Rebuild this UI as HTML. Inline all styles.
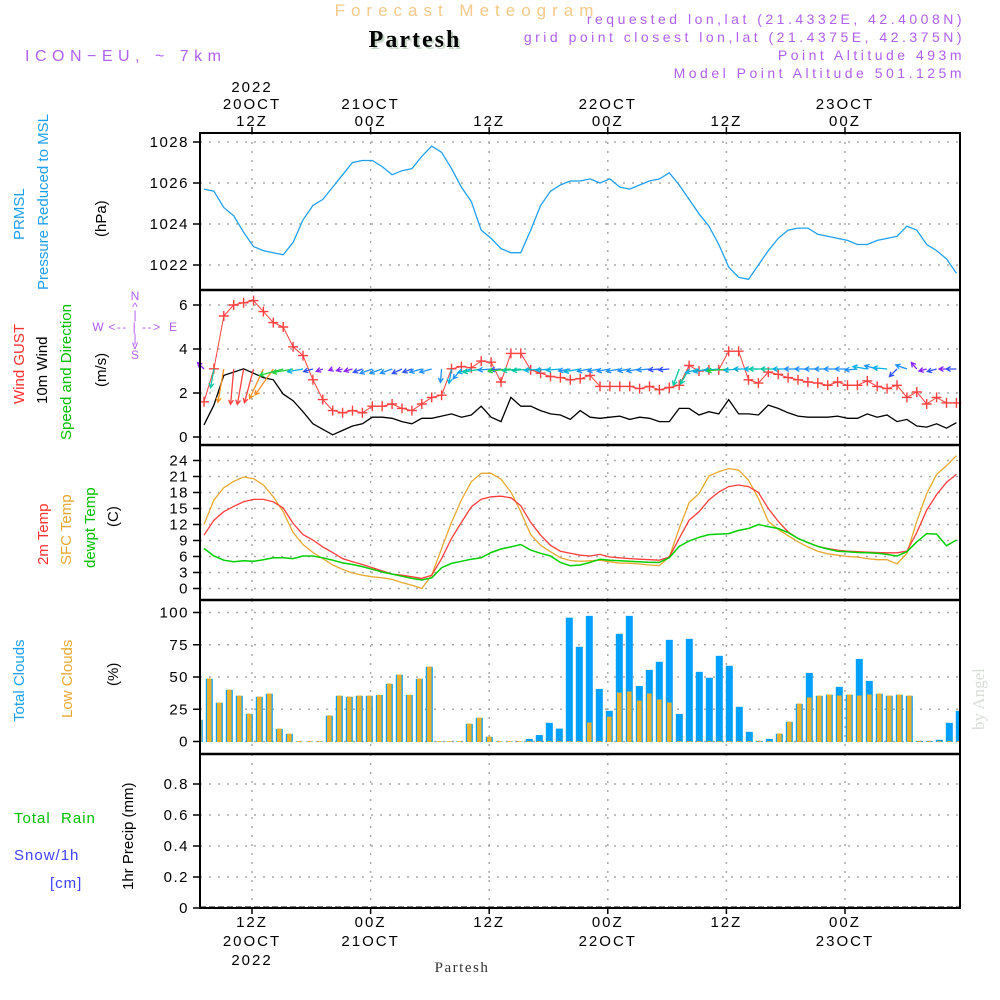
<!DOCTYPE html>
<html><head><meta charset="utf-8"><title>Forecast Meteogram Partesh</title>
<style>
html,body{margin:0;padding:0;background:#fff;}
svg{display:block;font-family:"Liberation Sans",sans-serif;}
</style></head>
<body>
<svg id="chart" width="1000" height="1000" viewBox="0 0 1000 1000" xmlns="http://www.w3.org/2000/svg">
<g id="static">
 <text x="467" y="16" text-anchor="middle" font-size="17" letter-spacing="6" fill="#f5c98a">Forecast Meteogram</text>
 <text x="417" y="49" text-anchor="middle" font-family="Liberation Serif,serif" font-weight="bold" font-size="24" fill="#c8d8c8" letter-spacing="2">Partesh</text>
 <text x="415" y="47" text-anchor="middle" font-family="Liberation Serif,serif" font-weight="bold" font-size="24" fill="#000" letter-spacing="2">Partesh</text>
 <text x="25" y="61" font-size="16" fill="#b060f0" letter-spacing="5.5">ICON−EU, ~ 7km</text>
 <g font-size="14" fill="#b060f0" text-anchor="end" letter-spacing="3.5">
  <text x="965" y="24">requested lon,lat (21.4332E, 42.4008N)</text>
  <text x="965" y="42">grid point closest lon,lat (21.4375E, 42.375N)</text>
  <text x="965" y="60">Point Altitude 493m</text>
  <text x="965" y="78">Model Point Altitude 501.125m</text>
 </g>
 <text transform="translate(984,730) rotate(-90)" font-family="Liberation Serif,serif" font-size="17" fill="#d8ddd8">by Angel</text>
 <g font-size="15">
  <text transform="translate(24,240) rotate(-90)" fill="#1ea0f0">PRMSL</text>
  <text transform="translate(48,290) rotate(-90)" fill="#1ea0f0">Pressure Reduced to MSL</text>
  <text transform="translate(106,237) rotate(-90)" fill="#000">(hPa)</text>
  <text transform="translate(24,404) rotate(-90)" fill="#ff3030">Wind GUST</text>
  <text transform="translate(47,404) rotate(-90)" fill="#000">10m Wind</text>
  <text transform="translate(71,440) rotate(-90)" fill="#00c000">Speed and Direction</text>
  <text transform="translate(106,387) rotate(-90)" fill="#000">(m/s)</text>
  <text transform="translate(48,565) rotate(-90)" fill="#ff3030">2m Temp</text>
  <text transform="translate(71,565) rotate(-90)" fill="#e8a830">SFC Temp</text>
  <text transform="translate(95,568) rotate(-90)" fill="#00c000">dewpt Temp</text>
  <text transform="translate(118,527) rotate(-90)" fill="#000">(C)</text>
  <text transform="translate(24,722) rotate(-90)" fill="#1ea0f0">Total Clouds</text>
  <text transform="translate(72,718) rotate(-90)" fill="#e8a830">Low Clouds</text>
  <text transform="translate(118,686) rotate(-90)" fill="#000">(%)</text>
  <text x="14" y="823" fill="#00c000" xml:space="preserve" letter-spacing="1">Total  Rain</text>
  <text x="14" y="860" fill="#4040ff" letter-spacing="1">Snow/1h</text>
  <text x="50" y="888" fill="#4040ff" letter-spacing="1">[cm]</text>
  <text transform="translate(133,890) rotate(-90)" fill="#000">1hr Precip (mm)</text>
 </g>
 <g font-size="12" fill="#b060f0" stroke="none">
  <text x="135" y="300" text-anchor="middle">N</text>
  <text x="135" y="311" text-anchor="middle">^</text>
  <text x="135" y="319" text-anchor="middle">|</text>
  <text x="98" y="331" text-anchor="middle">W</text>
  <text x="135" y="331" text-anchor="middle" letter-spacing="1.5">&lt;-- | --&gt;</text>
  <text x="173" y="331" text-anchor="middle">E</text>
  <text x="135" y="342" text-anchor="middle">|</text>
  <text x="135" y="349" text-anchor="middle">v</text>
  <text x="135" y="359" text-anchor="middle">S</text>
 </g>
 <text x="462" y="972" text-anchor="middle" font-family="Liberation Serif,serif" font-size="15" fill="#333" letter-spacing="1.5">Partesh</text>
</g>
<g id="dyn"></g>
</svg>
<script>
const timeTickHours = [12, 24, 36, 48, 60, 72];
const timeTickTop1 = ["12Z", "00Z", "12Z", "00Z", "12Z", "00Z"];
const timeTickTop2 = ["20OCT", "21OCT", "", "22OCT", "", "23OCT"];
const timeTickTop3 = ["2022", "", "", "", "", ""];
const pressure = [1025.7,1025.6,1024.8,1024.4,1023.6,1022.9,1022.7,1022.6,1022.5,1023.1,1024.2,1024.9,1025.2,1025.8,1026.4,1027.0,1027.1,1027.1,1026.8,1026.4,1026.6,1026.7,1027.3,1027.8,1027.5,1026.7,1025.8,1025.1,1023.7,1023.3,1022.8,1022.6,1022.6,1023.7,1024.9,1025.6,1025.9,1026.1,1026.1,1026.2,1026.0,1026.2,1025.8,1025.7,1025.9,1026.1,1026.2,1026.5,1025.9,1025.2,1024.5,1023.9,1023.0,1021.9,1021.4,1021.3,1022.0,1022.7,1023.3,1023.7,1023.8,1023.8,1023.5,1023.4,1023.3,1023.2,1023.0,1023.0,1023.2,1023.3,1023.4,1023.9,1023.7,1023.0,1022.7,1022.3,1021.6];
const pressureTicks = [1022, 1024, 1026, 1028];
const windGust = [1.6,3.1,5.5,6.0,6.1,6.2,5.7,5.2,5.0,4.1,3.7,2.6,1.7,1.2,1.1,1.2,1.1,1.4,1.4,1.5,1.3,1.2,1.5,1.8,1.9,3.1,3.2,3.15,3.45,3.4,2.5,3.8,3.8,3.05,2.9,2.75,2.7,2.6,2.65,2.8,2.3,2.3,2.3,2.3,2.2,2.3,2.15,2.25,2.35,3.25,3.0,3.05,3.05,3.9,3.9,2.6,2.45,2.95,2.85,2.7,2.6,2.5,2.45,2.35,2.5,2.35,2.35,2.55,2.3,2.2,2.35,1.8,2.05,1.5,1.8,1.55,1.55];
const windSpeed = [0.55,1.45,2.8,2.95,3.1,2.9,2.7,2.6,1.95,1.65,1.15,0.6,0.35,0.1,0.3,0.5,0.6,0.9,0.9,0.85,0.7,0.6,0.85,0.85,0.95,1.05,0.9,1.0,1.4,0.9,0.7,1.8,1.4,1.4,1.2,1.05,1.0,0.8,1.2,0.9,0.85,0.9,0.95,0.8,0.9,0.85,0.7,0.7,1.3,1.3,1.0,1.15,1.05,1.7,1.05,1.05,1.0,1.45,1.3,1.1,0.95,0.9,0.9,0.9,0.95,0.85,0.85,1.05,0.9,1.0,0.7,0.8,0.5,0.45,0.6,0.4,0.65];
const windArrowDir = [225,100,100,95,100,105,115,125,165,170,170,165,160,160,165,165,160,160,160,160,155,160,165,165,95,100,130,165,170,175,175,175,175,175,175,175,175,170,170,170,170,170,170,170,170,175,175,175,110,120,165,170,175,175,175,180,180,180,180,180,180,180,180,180,180,180,175,190,195,185,135,200,230,165,165,180,180];
const windTicks = [0, 2, 4, 6];
const temp2m = [10.0,12.8,14.4,15.4,16.25,16.7,16.7,16.25,15.1,12.2,10.1,9.1,7.8,6.75,5.6,5.0,4.5,3.9,3.3,2.7,2.5,2.2,1.9,2.5,5.6,9.4,12.4,15.3,16.75,17.2,17.3,17.0,15.5,12.4,10.0,8.1,7.0,6.6,6.25,6.1,6.4,5.9,5.75,5.6,5.5,5.4,5.3,5.9,9.4,12.8,14.4,16.6,18.1,19.1,19.4,19.1,18.0,15.0,12.6,10.6,9.4,8.6,7.9,7.5,7.2,7.0,6.9,6.8,6.75,6.7,6.7,7.0,10.5,14.7,17.6,19.9,21.4];
const tempSfc = [12.0,16.6,18.9,20.1,20.9,20.6,19.4,17.2,14.4,10.5,8.25,6.75,5.6,4.4,3.6,2.9,2.5,2.2,2.0,1.7,1.1,0.6,0.0,2.5,7.5,12.4,16.6,20.0,21.6,21.6,20.5,18.1,14.4,10.1,8.1,6.9,5.75,5.25,5.1,5.2,5.3,5.0,4.75,4.75,4.6,4.4,4.3,5.9,11.25,16.1,17.8,21.1,21.9,22.5,22.2,20.3,16.9,12.6,11.1,9.9,8.75,7.8,7.0,6.5,6.25,6.0,5.9,5.6,5.4,5.4,4.6,6.6,12.6,17.8,21.4,23.0,24.9];
const tempDew = [7.5,6.1,5.3,5.0,5.2,5.1,5.4,5.75,5.75,5.6,6.1,6.1,5.75,5.3,4.8,4.5,4.1,3.6,3.1,2.7,2.3,1.9,1.6,2.0,3.9,4.7,5.1,5.5,5.75,6.75,7.4,7.8,8.25,7.2,6.6,6.1,4.9,4.25,4.4,4.9,5.5,5.3,5.2,5.1,5.0,4.9,4.9,5.75,7.9,8.9,9.6,10.1,10.2,10.3,10.9,11.25,12.0,11.6,11.25,10.5,9.4,8.6,7.9,7.4,7.0,6.9,6.75,6.7,6.6,6.4,6.1,6.9,8.75,10.3,10.2,8.0,9.1];
const tempTicks = [0, 3, 6, 9, 12, 15, 18, 21, 24];
const cloudTotal = [16.8,48.6,30,40,35.4,21.4,34.6,37,9.8,5.9,0,0,0,20,35.4,34.6,35.4,35.4,36,44.7,51.7,36,48.6,57.9,0,0,0,13.7,18.3,3.6,0,0,0,2,5,14.5,10,96,73.4,97.4,40.8,23.8,83.5,97.4,43,55.5,61.8,78.8,21.4,79.6,54,49.4,66.4,58.7,26.9,7.5,0.5,2,6,15.2,29.2,53.2,35.4,36.2,42.4,36.2,64,47,37,35.4,36.2,35.4,0.5,0.5,1.3,14.5,23.8];
const cloudLow = [16.8,48.6,30,40,35.4,21.4,34.6,37,9.8,5.9,0,0,0,20,35.4,34.6,35.4,35.4,36,44.7,51.7,36,48.6,57.9,0,0,0,13.7,18.3,3.6,0,0,0,0,0,0,0,0,0,14.5,0,19,37.7,38.5,31.5,37,32.3,30,0,0,0,0,0,0,0,0,0,0,6,15.2,29.2,33.9,35.4,36.2,35.4,36.2,35.4,36.2,37,35.4,36.2,35.4,0,0,0,0,0];
const cloudTicks = [0, 25, 50, 75, 100];
const precipTicks = [0, 0.2, 0.4, 0.6, 0.8];
const precipTickLabels = ["0", "0.2", "0.4", "0.6", "0.8"];

const X0 = 200, X1 = 960;
const xHour = h => 252 + (h - 12) * 9.883;
const xLine = i => 204 + 9.9 * i;
const xBar = i => 199.3 + 10 * i;
const yPres = v => 142 + (1028 - v) * 20.5;
const yWind = v => 437 - 22 * v;
const yTemp = v => 588.5 - 5.333 * v;
const yCloud = v => 741.5 - 1.29 * v;
const yPrecip = v => 908 - 155 * v;
const panels = [[133, 290], [290, 445], [445, 600], [600, 754], [754, 908]];

const NS = "http://www.w3.org/2000/svg";
const dyn = document.getElementById("dyn");
function mk(tag, attrs, parent) {
  const e = document.createElementNS(NS, tag);
  for (const k in attrs) e.setAttribute(k, attrs[k]);
  (parent || dyn).appendChild(e);
  return e;
}

timeTickHours.forEach((h, k) => {
  const x = xHour(h);
  panels.forEach(p => {
    const g = mk("line", {x1: x, x2: x, y1: p[0], y2: p[1], stroke: "#aaa", "stroke-width": 1.5, "stroke-dasharray": "2,7"});
    
    
  });
  const t1 = mk("line", {x1: x, x2: x, y1: 127, y2: 133, stroke: "#000", "stroke-width": 1.5});
  
  
  const t2 = mk("line", {x1: x, x2: x, y1: 908, y2: 914, stroke: "#000", "stroke-width": 1.5});
  
  
  const lines = [[timeTickTop3[k], 92], [timeTickTop2[k], 109], [timeTickTop1[k], 126]];
  lines.forEach(l => {
    if (!l[0]) return;
    const t = mk("text", {x: x, y: l[1], "text-anchor": "middle", "font-size": 15, fill: "#000", "letter-spacing": 2});
    t.textContent = l[0];
    
    
  });
  const bl = [[timeTickTop1[k], 927], [timeTickTop2[k], 946], [timeTickTop3[k], 965]];
  bl.forEach(l => {
    if (!l[0]) return;
    const t = mk("text", {x: x, y: l[1], "text-anchor": "middle", "font-size": 15, fill: "#000", "letter-spacing": 2});
    t.textContent = l[0];
    
    
  });
});

function yAxis(ticks, yf, labels, name) {
  ticks.forEach((v, k) => {
    const y = yf(v);
    const g = mk("line", {x1: X0, x2: X1, y1: y, y2: y, stroke: "#aaa", "stroke-width": 1.5, "stroke-dasharray": "2,7"});
    
    
    const tk = mk("line", {x1: 193, x2: 200, y1: y, y2: y, stroke: "#000", "stroke-width": 1.5});
    
    
    const t = mk("text", {x: 189, y: y + 5, "text-anchor": "end", "font-size": 15, fill: "#000", "letter-spacing": 1.5});
    t.textContent = labels ? labels[k] : String(v);
    
    
  });
}
yAxis(pressureTicks, yPres, null, "pressure");
yAxis(windTicks, yWind, null, "wind");
yAxis(tempTicks, yTemp, null, "temp");
yAxis(cloudTicks, yCloud, null, "cloud");
yAxis(precipTicks, yPrecip, precipTickLabels, "precip");

function polyline(arr, yf, color, name, w) {
  const pts = arr.map((v, i) => xLine(i).toFixed(1) + "," + yf(v).toFixed(1)).join(" ");
  const p = mk("polyline", {points: pts, fill: "none", stroke: color, "stroke-width": w || 1.3});
  
  
  return p;
}

cloudTotal.forEach((v, i) => {
  const x = xBar(i);
  const x0 = Math.max(X0, x - 3.5), x1 = Math.min(X1, x + 3.5);
  if (x1 <= x0) return;
  const r = mk("rect", {x: x0, y: yCloud(v), width: x1 - x0, height: Math.max(0, yCloud(0) - yCloud(v)) + 0.5, fill: "#00a0ff"});
  
  
  const lv = cloudLow[i];
  const lx0 = Math.max(X0, x - 2.3), lx1 = Math.min(X1, x + 2.3);
  const l = mk("rect", {x: lx0, y: yCloud(lv) - 0.3, width: Math.max(0, lx1 - lx0), height: Math.max(0.8, yCloud(0) - yCloud(lv) + 0.8), fill: "#e8b030"});
  
  
});

polyline(pressure, yPres, "#1ea0f0", "pressure-line", 1.3);
polyline(tempSfc, yTemp, "#e8a830", "sfc-temp-line", 1.3);
polyline(temp2m, yTemp, "#ff3c3c", "temp-2m-line", 1.3);
polyline(tempDew, yTemp, "#00d000", "dewpt-line", 1.5);
polyline(windSpeed, yWind, "#000", "wind-speed-line", 1.3);
polyline(windGust, yWind, "#ff4040", "wind-gust-line", 1);
windGust.forEach((v, i) => {
  const x = xLine(i), y = yWind(v);
  const m = mk("path", {d: `M${x-5},${y}H${x+5}M${x},${y-5}V${y+5}`, stroke: "#ff4040", "stroke-width": 1.4, fill: "none"});
  
  
});
function speedColor(s) {
  if (s < 0.6) return "#8a20ff";
  if (s < 0.8) return "#3050ff";
  if (s < 1.0) return "#1e90ff";
  if (s < 1.3) return "#00b0e0";
  if (s < 1.6) return "#00c8a0";
  if (s < 2.0) return "#20d040";
  if (s < 2.5) return "#90d000";
  if (s < 2.9) return "#ff9020";
  return "#ff4040";
}
windArrowDir.forEach((d, i) => {
  const s = windSpeed[i];
  const L = Math.min(36, 11 * s + 3);
  const x = xLine(i), y = 369;
  const a = d * Math.PI / 180;
  const tx = x + L * Math.cos(a), ty = y + L * Math.sin(a);
  const h = 5, ha = 0.5;
  const h1x = tx - h * Math.cos(a - ha), h1y = ty - h * Math.sin(a - ha);
  const h2x = tx - h * Math.cos(a + ha), h2y = ty - h * Math.sin(a + ha);
  const c = speedColor(s);
  const p = mk("path", {d: `M${x},${y}L${tx},${ty}M${h1x},${h1y}L${tx},${ty}L${h2x},${h2y}`, stroke: c, "stroke-width": 1.3, fill: "none"});
  
  
});

const pb = mk("line", {x1: X0, x2: X1, y1: 907, y2: 907, stroke: "#000", "stroke-width": 1, "stroke-dasharray": "6,3"});



const fr = mk("rect", {x: X0, y: 133, width: X1 - X0, height: 775, fill: "none", stroke: "#000", "stroke-width": 2});


[290, 445, 600, 754].forEach(y => {
  const l = mk("line", {x1: X0, x2: X1, y1: y, y2: y, stroke: "#000", "stroke-width": 2.5});
  
  
});
</script>
</body></html>
